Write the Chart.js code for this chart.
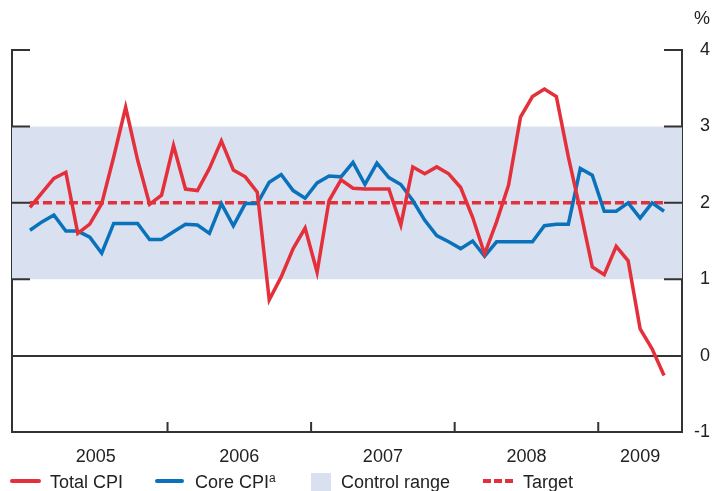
<!DOCTYPE html>
<html>
<head>
<meta charset="utf-8">
<script src="https://cdn.jsdelivr.net/npm/chart.js@4/dist/chart.umd.min.js"></script>
<style>
  body { margin: 0; background: #fff; }
  #wrap { position: relative; width: 712px; height: 491px; overflow: hidden; font-family: "Liberation Sans", Arial, sans-serif; color: #222; }
  #chart { position: absolute; left: 0; top: 0; }
  .leg { position: absolute; top: 472px; font-size: 18px; line-height: 20px; white-space: nowrap; }
  .leg sup { font-size: 12px; line-height: 0; vertical-align: 6px; }
  .sw { position: absolute; }
</style>
</head>
<body>
<div id="wrap">
  <canvas id="chart" width="712" height="491"></canvas>
  <div class="sw" style="left:10px; top:479px; width:31px; height:4px; background:#e4303a; border-radius:2px"></div>
  <div class="leg" style="left:50px">Total CPI</div>
  <div class="sw" style="left:155px; top:479px; width:29px; height:4px; background:#0a72ba; border-radius:2px"></div>
  <div class="leg" style="left:195px">Core CPI<sup>a</sup></div>
  <div class="sw" style="left:311px; top:473px; width:20px; height:22px; background:#d9e1f1"></div>
  <div class="leg" style="left:341px">Control range</div>
  <div class="sw" style="left:483px; top:479px; width:30px; height:4px; background:repeating-linear-gradient(90deg,#e4303a 0 8px,transparent 8px 11px)"></div>
  <div class="leg" style="left:523px">Target</div>
</div>
<script>
// monthly values, Jan 2005 - Jun 2009 (per cent)
const totalCpi = [
  1.94, 2.13, 2.32, 2.40, 1.60, 1.72, 1.99, 2.60, 3.25, 2.56, 1.98, 2.10,
  2.75, 2.18, 2.16, 2.45, 2.81, 2.43, 2.34, 2.14, 0.73, 1.03, 1.40, 1.67,
  1.09, 2.03, 2.30, 2.19, 2.18, 2.18, 2.18, 1.71, 2.47, 2.38, 2.47, 2.38,
  2.20, 1.81, 1.33, 1.75, 2.23, 3.12, 3.39, 3.49, 3.39, 2.60, 1.90, 1.16,
  1.06, 1.43, 1.24, 0.35, 0.09, -0.26
];
const coreCpi = [
  1.64, 1.75, 1.84, 1.63, 1.63, 1.55, 1.34, 1.73, 1.73, 1.73, 1.52, 1.52,
  1.62, 1.72, 1.71, 1.60, 1.99, 1.70, 1.99, 1.99, 2.27, 2.37, 2.16, 2.06,
  2.26, 2.35, 2.34, 2.53, 2.24, 2.52, 2.33, 2.24, 2.03, 1.77, 1.57, 1.49,
  1.40, 1.50, 1.30, 1.49, 1.49, 1.49, 1.49, 1.70, 1.72, 1.72, 2.45, 2.36,
  1.89, 1.89, 2.00, 1.80, 2.00, 1.89
];
const target = 2;
const controlRange = [1, 3];
const years = ['2005', '2006', '2007', '2008', '2009'];
const yearLabelPos = [6, 18, 30, 42, 51.5]; // month index of label centre
const yearTicks = [12, 24, 36, 48];         // month index of Jan of each year
const xRange = [-1, 55];
const yTicks = [-1, 0, 1, 2, 3, 4];

const red = '#e4303a';
const blue = '#0a72ba';
const band = '#d9e1f1';
const axisCol = '#333';

// month index -> point in the middle of the month
const toPoints = arr => arr.map((v, i) => ({ x: i + 0.5, y: v }));

// short inward tick marks + % sign
const axisMarks = {
  id: 'axisMarks',
  afterDraw(chart) {
    const ctx = chart.ctx;
    const x = chart.scales.x;
    const y = chart.scales.y;
    const area = chart.chartArea;
    ctx.save();
    ctx.strokeStyle = axisCol;
    ctx.lineWidth = 2;
    ctx.beginPath();
    [1, 2, 3, 4].forEach(v => {
      const py = y.getPixelForValue(v);
      ctx.moveTo(area.left, py); ctx.lineTo(area.left + 18, py);
      ctx.moveTo(area.right - 18, py); ctx.lineTo(area.right, py);
    });
    yearTicks.forEach(m => {
      const px = x.getPixelForValue(m);
      ctx.moveTo(px, area.bottom); ctx.lineTo(px, area.bottom - 10);
    });
    ctx.stroke();
    ctx.fillStyle = '#222';
    ctx.font = '18px "Liberation Sans", Arial, sans-serif';
    ctx.textAlign = 'right';
    ctx.textBaseline = 'middle';
    ctx.fillText('%', 710, 19);
    ctx.restore();
  }
};

new Chart(document.getElementById('chart'), {
  type: 'line',
  data: {
    datasets: [
      {
        label: 'Total CPI',
        data: toPoints(totalCpi),
        borderColor: red,
        borderWidth: 3.5,
        pointRadius: 0,
        borderJoinStyle: 'miter',
        tension: 0,
        fill: false
      },
      {
        label: 'Core CPI',
        data: toPoints(coreCpi),
        borderColor: blue,
        borderWidth: 3.5,
        pointRadius: 0,
        borderJoinStyle: 'miter',
        tension: 0,
        fill: false
      },
      {
        label: 'Target',
        data: toPoints(totalCpi.map(() => target)),
        borderColor: red,
        borderWidth: 3.5,
        borderDash: [9, 4],
        pointRadius: 0,
        fill: false
      },
      {
        label: 'Control range',
        data: [{ x: xRange[0], y: controlRange[1] }, { x: xRange[1], y: controlRange[1] }],
        borderWidth: 0,
        pointRadius: 0,
        backgroundColor: band,
        fill: { value: controlRange[0] }
      }
    ]
  },
  options: {
    responsive: false,
    animation: false,
    devicePixelRatio: 1,
    layout: { padding: { top: 50, right: 2, left: 0, bottom: 0 } },
    plugins: { legend: { display: false }, tooltip: { enabled: false } },
    scales: {
      x: {
        type: 'linear',
        min: xRange[0],
        max: xRange[1],
        afterBuildTicks: s => { s.ticks = yearLabelPos.map(v => ({ value: v })); },
        afterFit: s => { s.height = 59; },
        grid: { display: false, drawTicks: false },
        border: { display: true, color: axisCol, width: 2 },
        ticks: {
          autoSkip: false,
          maxRotation: 0,
          padding: 14,
          color: '#222',
          font: { size: 18, family: '"Liberation Sans", Arial, sans-serif' },
          callback: (v, i) => years[i]
        }
      },
      y: {
        position: 'left',
        min: -1,
        max: 4,
        afterBuildTicks: s => { s.ticks = yTicks.map(v => ({ value: v })); },
        afterFit: s => { s.width = 12; },
        grid: {
          drawTicks: false,
          color: c => (c.tick && c.tick.value === 0 ? axisCol : 'rgba(0,0,0,0)'),
          lineWidth: 2
        },
        border: { display: true, color: axisCol, width: 2 },
        ticks: { display: false }
      },
      y2: {
        position: 'right',
        min: -1,
        max: 4,
        afterBuildTicks: s => { s.ticks = yTicks.map(v => ({ value: v })); },
        afterFit: s => { s.width = 28; },
        grid: { display: false, drawTicks: false },
        border: { display: true, color: axisCol, width: 2 },
        ticks: {
          crossAlign: 'far',
          padding: 8,
          color: '#222',
          font: { size: 18, family: '"Liberation Sans", Arial, sans-serif' }
        }
      }
    }
  },
  plugins: [axisMarks]
});
</script>
</body>
</html>
